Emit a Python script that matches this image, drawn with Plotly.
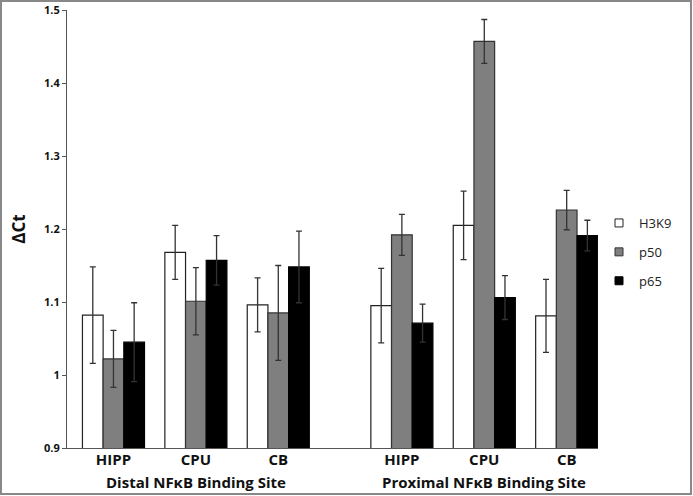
import plotly.graph_objects as go

regions = ["HIPP", "CPU", "CB"]
sites = ["Distal NFκB Binding Site", "Proximal NFκB Binding Site"]
series_names = ["H3K9", "p50", "p65"]

# values ordered: distal HIPP, CPU, CB, proximal HIPP, CPU, CB
h3k9 = [1.082, 1.168, 1.096, 1.095, 1.205, 1.081]
h3k9_err = [0.066, 0.037, 0.037, 0.051, 0.047, 0.050]
p50 = [1.022, 1.101, 1.085, 1.192, 1.457, 1.226]
p50_err = [0.039, 0.046, 0.065, 0.028, 0.030, 0.027]
p65 = [1.045, 1.157, 1.148, 1.071, 1.106, 1.191]
p65_err = [0.054, 0.034, 0.049, 0.026, 0.030, 0.021]

y_ticks = [0.9, 1.0, 1.1, 1.2, 1.3, 1.4, 1.5]
y_tick_text = ["0.9", "1", "1.1", "1.2", "1.3", "1.4", "1.5"]

# numeric positions: groups of 3 regions with a 1.5-slot gap between sites
xpos = [s * (len(regions) + 0.5) + r for s in range(len(sites)) for r in range(len(regions))]
tick_labels = [regions[r] for s in range(len(sites)) for r in range(len(regions))]

fills = ["#ffffff", "#7f7f7f", "#000000"]
outlines = ["#222222", "#333333", "#000000"]
values = [h3k9, p50, p65]
errors = [h3k9_err, p50_err, p65_err]

fig = go.Figure()
for i, name in enumerate(series_names):
    fig.add_trace(go.Bar(
        x=xpos, y=values[i], name=name,
        marker=dict(color=fills[i], line=dict(color=outlines[i], width=1.2)),
        error_y=dict(type="data", array=errors[i], visible=True,
                     color="#333333", thickness=1.3, width=3),
        legendgroup=name, showlegend=False,
    ))
# small square legend keys
for i, name in enumerate(series_names):
    fig.add_trace(go.Scatter(
        x=[None], y=[None], mode="markers", name=name, legendgroup=name,
        marker=dict(symbol="square", size=8, color=fills[i],
                    line=dict(color=outlines[i], width=1)),
    ))

L, R, T, B = 67, 95, 10, 48
W, H = 693, 496
pw, ph = W - L - R, H - T - B

fig.update_layout(
    width=W, height=H,
    margin=dict(l=L, r=R, t=T, b=B, autoexpand=False),
    barmode="group", bargap=0.247, bargroupgap=0,
    plot_bgcolor="white", paper_bgcolor="white",
    font=dict(family="Open Sans", color="#111111"),
    showlegend=True,
    legend=dict(x=(599 - L) / pw, y=1 - (208 - T) / ph, xanchor="left", yanchor="top",
                font=dict(size=13, color="#222222"), tracegroupgap=9,
                bgcolor="rgba(0,0,0,0)"),
    xaxis=dict(range=[-0.564, 5.88], tickvals=xpos, ticktext=tick_labels,
               tickfont=dict(size=15, family="Open Sans", weight="bold", color="#111111"),
               showgrid=False, zeroline=False, showline=True, linecolor="#555555",
               linewidth=1, ticks="", ticklabelstandoff=-2, automargin=False),
    yaxis=dict(range=[0.9, 1.5], tickvals=y_ticks, ticktext=y_tick_text,
               tickfont=dict(size=11, family="Open Sans", weight="bold", color="#111111"),
               showgrid=False, zeroline=False, showline=True, linecolor="#555555",
               linewidth=1, ticks="outside", ticklen=4, tickcolor="#555555",
               automargin=False,
               title=dict(text="ΔCt", font=dict(size=17, family="Open Sans", weight="bold"),
                          standoff=14)),
)

for s, site in enumerate(sites):
    center = s * (len(regions) + 0.5) + 1
    fig.add_annotation(x=center, xref="x", y=-(482 - T - ph) / ph, yref="paper",
                       text=site, showarrow=False, yanchor="middle",
                       font=dict(size=15, family="Open Sans", weight="bold", color="#111111"))

fig.add_shape(type="rect", xref="paper", yref="paper",
              x0=-(L - 1) / pw, x1=(W - 2 - L) / pw,
              y0=-(H - 2 - T - ph) / ph, y1=1 + (T - 1) / ph,
              line=dict(color="#888888", width=2))

fig.write_html("out.html", config={"displayModeBar": False},
               post_script="document.body.style.margin='0px';")
